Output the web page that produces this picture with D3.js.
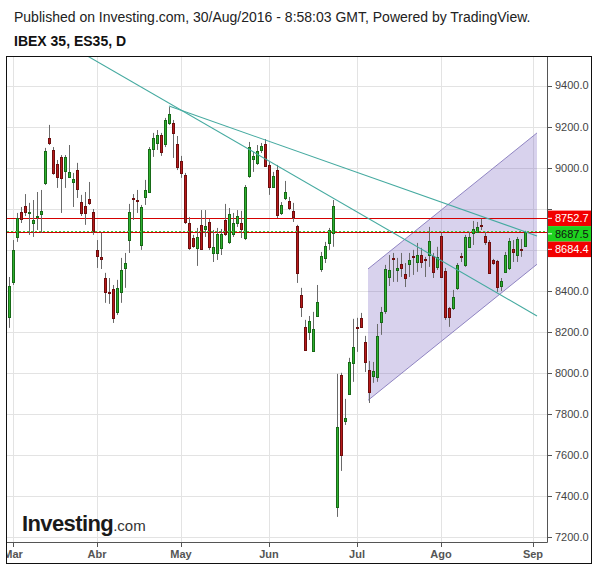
<!DOCTYPE html>
<html>
<head>
<meta charset="utf-8">
<script src="https://cdn.jsdelivr.net/npm/d3@7/dist/d3.min.js"></script>
<style>
  body { margin: 0; background: #fff; }
  svg { display: block; font-family: Arial, "Liberation Sans", sans-serif; }
</style>
</head>
<body>
<svg id="chart" width="598" height="566"></svg>
<script>
// daily IBEX 35 bars, index 0 = 29 Feb 2016 ... 129 = 30 Aug 2016
const opens = [8272,8443,8662,8784,8813,8779,8730,8760,8774,8925,9144,9086,9018,9052,8984,8954,8930,8988,8832,8813,8847,8784,
  8599,8565,8462,8394,8409,8297,8394,8511,8647,8852,8842,8623,8857,8881,9091,9120,9159,9115,9217,9217,9115,
  9032,8964,8730,8657,8609,8721,8701,8735,8584,8584,8609,8745,8638,8677,8730,8730,8657,8959,9042,9023,9086,9115,
  9013,8906,8988,8779,8852,8837,8789,8716,8380,8224,8200,8107,8277,8506,8560,8633,8682,7347,7990,7766,7897,8048,
  8224,8268,8151,8014,7985,7980,8248,8302,8467,8560,8501,8530,8482,8530,8570,8540,8574,8555,8574,8570,8516,
  8667,8497,8316,8316,8414,8570,8526,8614,8682,8687,8721,8667,8638,8550,8545,8423,8492,8511,8604,8574,8604,8618];
const highs = [8467,8647,8779,8808,8871,8828,8842,8881,8891,9096,9208,9100,9037,9061,9061,9110,8974,9023,8867,8881,8930,8798,
  8647,8682,8487,8462,8428,8453,8560,8584,8823,8871,8891,8818,8940,9100,9169,9183,9169,9242,9295,9232,9154,
  9057,8974,8759,8672,8706,8793,8793,8750,8696,8706,8701,8823,8803,8779,8793,8789,8915,9125,9076,9110,9120,9139,
  9027,8979,9013,8832,8935,8857,8828,8721,8414,8258,8277,8297,8428,8589,8638,8706,8842,7995,8000,7873,8073,8263,
  8268,8292,8180,8058,8053,8238,8321,8526,8574,8584,8560,8584,8535,8584,8599,8633,8609,8565,8711,8584,8614,
  8682,8511,8321,8404,8535,8584,8672,8687,8740,8735,8750,8687,8647,8555,8550,8462,8589,8657,8647,8662,8652,8692];
const lows = [8219,8428,8638,8730,8764,8672,8662,8696,8682,8915,9110,8965,8901,8779,8901,8950,8808,8852,8764,8721,8818,8672,
  8511,8506,8341,8336,8243,8282,8341,8414,8584,8745,8779,8599,8818,8876,9052,9086,9057,9100,9208,9047,8988,
  8950,8725,8599,8609,8521,8599,8662,8599,8540,8550,8574,8667,8628,8662,8711,8657,8647,8950,8979,9013,9071,9003,
  8867,8901,8754,8769,8842,8793,8735,8438,8272,8107,8160,8102,8272,8492,8535,8599,8614,7298,7522,7746,7892,7956,
  8102,8219,8004,7853,7951,7956,8185,8287,8423,8443,8443,8467,8418,8467,8477,8492,8511,8467,8516,8462,8501,
  8462,8258,8224,8306,8404,8540,8516,8609,8623,8682,8696,8623,8482,8526,8394,8399,8487,8501,8540,8540,8565,8614];
const closes = [8423,8599,8755,8750,8784,8784,8745,8765,8789,9081,9120,8974,8954,8950,9052,8979,8945,8896,8779,8779,8828,8691,
  8570,8555,8394,8389,8267,8414,8501,8535,8784,8847,8837,8808,8891,9091,9144,9159,9076,9232,9261,9169,9003,
  8974,8735,8609,8618,8662,8604,8716,8614,8614,8677,8677,8677,8774,8730,8764,8701,8906,9100,9057,9081,9105,9008,
  8906,8959,8769,8818,8881,8803,8759,8487,8321,8112,8253,8214,8346,8570,8618,8696,8813,7737,7600,7780,8053,8126,
  8219,8224,8053,7907,8009,8180,8297,8506,8501,8555,8511,8511,8462,8550,8565,8574,8540,8550,8643,8492,8565,
  8467,8272,8272,8370,8526,8565,8662,8662,8701,8711,8716,8638,8487,8535,8418,8448,8574,8643,8589,8652,8599,8687.5];

const monthLabels = ["Mar", "Abr", "May", "Jun", "Jul", "Ago", "Sep"];
const monthStarts = [1, 22, 43, 65, 87, 108, 131];
const priceTicks = [7200, 7400, 7600, 7800, 8000, 8200, 8400, 8600, 8800, 9000, 9200, 9400];

const levelValues = [8752.7, 8687.5, 8684.4];
const levelLabels = ["8752.7", "8687.5", "8684.4"];

const trendA = [[10, 9652], [132, 8277]];
const trendB = [[40, 9300], [132, 8667]];
const channelTop = [[89.75, 8506], [132, 9169]];
const channelBottom = [[89.75, 7866], [132, 8529]];

const svg = d3.select("#chart");
const plot = {left: 7, right: 547, top: 57, bottom: 542};

const x = d3.scaleLinear().domain([-0.5, 134.5]).range([plot.left, plot.right]);
const y = d3.scaleLinear().domain([7200, 9400]).range([537, 85.5]);
const px = v => Math.round(x(v)) + 0.5;
const py = v => Math.round(y(v)) + 0.5;

// header
svg.append("text").attr("x", 14).attr("y", 22)
  .attr("font-size", 14).attr("fill", "#222")
  .text("Published on Investing.com, 30/Aug/2016 - 8:58:03 GMT, Powered by TradingView.");
svg.append("text").attr("x", 14).attr("y", 46)
  .attr("font-size", 14).attr("font-weight", "bold").attr("fill", "#111")
  .text("IBEX 35, ES35, D");

svg.append("defs").append("clipPath").attr("id", "plotClip")
  .append("rect").attr("x", plot.left).attr("y", plot.top)
  .attr("width", plot.right - plot.left).attr("height", plot.bottom - plot.top);
svg.select("defs").append("clipPath").attr("id", "frameClip")
  .append("rect").attr("x", 7).attr("y", 57).attr("width", 584).attr("height", 506);

const g = svg.append("g").attr("clip-path", "url(#plotClip)");

// grid
g.selectAll("line.hgrid").data(priceTicks).enter().append("line")
  .attr("class", "hgrid")
  .attr("x1", plot.left).attr("x2", plot.right)
  .attr("y1", d => py(d)).attr("y2", d => py(d))
  .attr("stroke", "#e3e3e3");
g.selectAll("line.vgrid").data(monthStarts).enter().append("line")
  .attr("class", "vgrid")
  .attr("x1", d => px(d)).attr("x2", d => px(d))
  .attr("y1", plot.top).attr("y2", plot.bottom)
  .attr("stroke", "#e3e3e3");

// channel
const chPoly = [channelTop[0], channelTop[1], channelBottom[1], channelBottom[0]];
g.append("path")
  .attr("d", d3.line().x(d => x(d[0])).y(d => y(d[1]))(chPoly) + "Z")
  .attr("fill", "rgba(110,90,190,0.27)");
[channelTop, channelBottom].forEach(function(seg) {
  g.append("path")
    .attr("d", d3.line().x(d => x(d[0])).y(d => y(d[1]))(seg))
    .attr("stroke", "#8f84c2").attr("stroke-width", 1).attr("fill", "none");
});

// level lines
g.append("line").attr("x1", plot.left).attr("x2", plot.right)
  .attr("y1", py(levelValues[0])).attr("y2", py(levelValues[0]))
  .attr("stroke", "#d40000");
g.append("line").attr("x1", plot.left).attr("x2", plot.right)
  .attr("y1", py(levelValues[2])).attr("y2", py(levelValues[2]))
  .attr("stroke", "#d40000");

// candles
const bars = d3.range(opens.length).map(i => ({i: i, o: opens[i], h: highs[i], l: lows[i], c: closes[i]}));
const candle = g.selectAll("g.candle").data(bars).enter().append("g").attr("class", "candle");
candle.append("line")
  .attr("x1", d => px(d.i)).attr("x2", d => px(d.i))
  .attr("y1", d => y(d.h)).attr("y2", d => y(d.l))
  .attr("stroke", "#6a6a6a");
candle.append("rect")
  .attr("x", d => px(d.i) - 1)
  .attr("width", 2)
  .attr("y", d => Math.round(y(Math.max(d.o, d.c))) + 0.5)
  .attr("height", d => Math.max(1, Math.round(y(Math.min(d.o, d.c))) - Math.round(y(Math.max(d.o, d.c)))))
  .attr("fill", d => d.c >= d.o ? "#2fb02f" : "#b81a1a")
  .attr("stroke", d => d.c >= d.o ? "#176a17" : "#6e0e0e")
  .attr("stroke-width", 1);

// current price dotted line
g.append("line").attr("x1", plot.left).attr("x2", plot.right)
  .attr("y1", py(levelValues[1]) - 1).attr("y2", py(levelValues[1]) - 1)
  .attr("stroke", "#3ccf3c").attr("stroke-dasharray", "2,2");

// trend lines
[trendA, trendB].forEach(function(seg) {
  g.append("path")
    .attr("d", d3.line().x(d => x(d[0])).y(d => y(d[1]))(seg))
    .attr("stroke", "#45aaa0").attr("stroke-width", 1.1).attr("fill", "none");
});

// logo
const logo = svg.append("text").attr("x", 22).attr("y", 531).attr("fill", "#1a1a1a");
logo.append("tspan").attr("font-size", 22).attr("font-weight", "bold").attr("letter-spacing", -0.6).text("Investing");
logo.append("tspan").attr("font-size", 15).attr("fill", "#333").text(".com");

// axes
const fg = svg.append("g").attr("clip-path", "url(#frameClip)");
fg.append("line").attr("x1", 6).attr("x2", plot.right + 0.5)
  .attr("y1", plot.bottom + 0.5).attr("y2", plot.bottom + 0.5).attr("stroke", "#555");
fg.append("line").attr("x1", plot.right + 0.5).attr("x2", plot.right + 0.5)
  .attr("y1", 56).attr("y2", plot.bottom + 0.5).attr("stroke", "#555");

fg.selectAll("line.xtick").data(monthStarts).enter().append("line")
  .attr("x1", d => px(d)).attr("x2", d => px(d))
  .attr("y1", plot.bottom + 1).attr("y2", plot.bottom + 5).attr("stroke", "#555");
fg.selectAll("text.xlab").data(monthLabels).enter().append("text")
  .attr("x", (d, i) => x(monthStarts[i]))
  .attr("y", 558)
  .attr("text-anchor", "middle")
  .attr("font-size", 11).attr("font-weight", "bold").attr("fill", "#555")
  .text(d => d);

// y labels; the ones that sit under a price box are left out
const boxH = 15.5;
const boxTops = [];
let lastBottom = -Infinity;
levelValues.forEach(function(v) {
  const top = Math.max(y(v) - boxH / 2, lastBottom);
  lastBottom = top + boxH;
  boxTops.push(top);
});
const hidden = d => boxTops.some(t => y(d) > t - 4 && y(d) < t + boxH + 4);

fg.selectAll("line.ytick").data(priceTicks).enter().append("line")
  .attr("x1", plot.right + 1).attr("x2", plot.right + 5)
  .attr("y1", d => py(d)).attr("y2", d => py(d)).attr("stroke", "#555");
fg.selectAll("text.ylab").data(priceTicks.filter(d => !hidden(d))).enter().append("text")
  .attr("x", 555).attr("y", d => y(d)).attr("dy", "0.36em")
  .attr("font-size", 11).attr("fill", "#444")
  .text(d => d3.format(".1f")(d));

// price boxes (stacked so they do not overlap)
levelValues.forEach(function(v, k) {
  const top = boxTops[k];
  const isGreen = k === 1;
  fg.append("rect").attr("x", plot.right + 1).attr("y", top)
    .attr("width", 44).attr("height", boxH)
    .attr("fill", isGreen ? "#1ed31e" : "#f20000");
  fg.append("line").attr("x1", plot.right + 1).attr("x2", plot.right + 5)
    .attr("y1", top + boxH / 2).attr("y2", top + boxH / 2).attr("stroke", "#fff");
  fg.append("text").attr("x", 555).attr("y", top + boxH / 2).attr("dy", "0.36em")
    .attr("font-size", 11).attr("fill", isGreen ? "#111" : "#fff")
    .text(levelLabels[k]);
});

// frame
svg.append("rect").attr("x", 6.5).attr("y", 56.5).attr("width", 585).attr("height", 507)
  .attr("fill", "none").attr("stroke", "#111");
</script>
</body>
</html>
